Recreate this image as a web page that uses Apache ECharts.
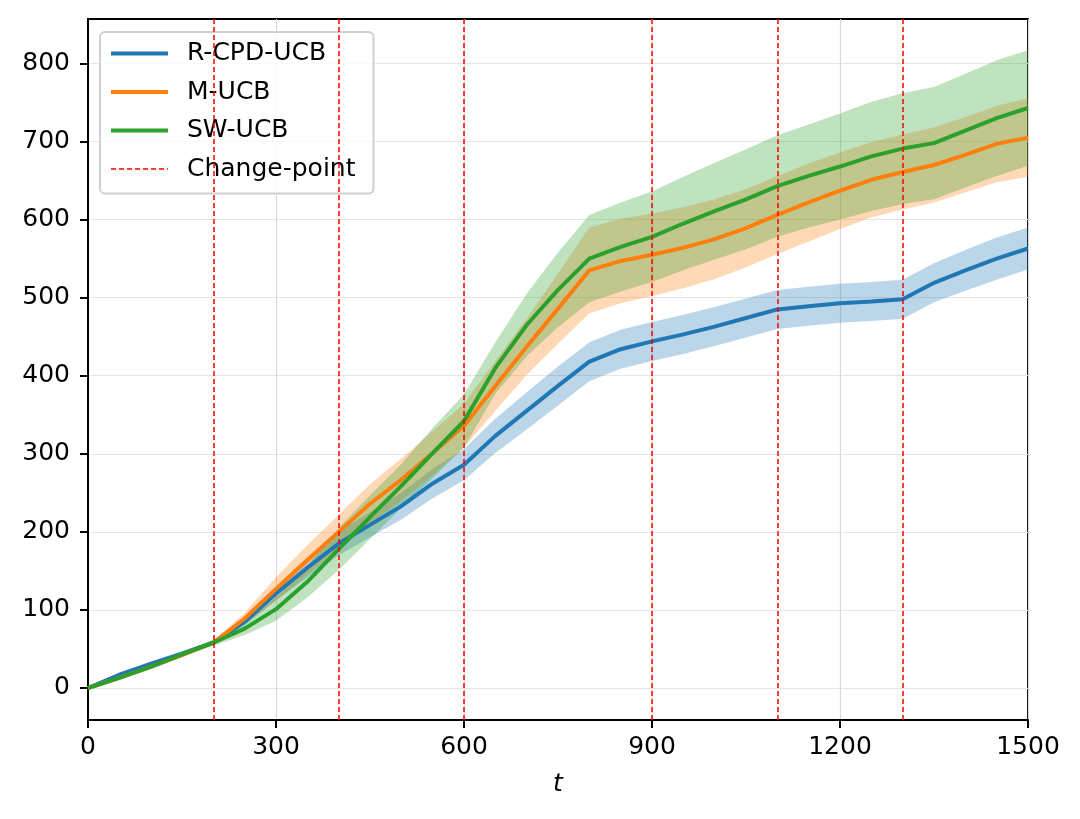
<!DOCTYPE html>
<html><head><meta charset="utf-8">
<script src="https://cdn.jsdelivr.net/npm/echarts@6/dist/echarts.min.js"></script>
<style>html,body{margin:0;padding:0;background:#fff}#c{width:1080px;height:819px}</style>
</head><body><div id="c"></div>
<script>
const t = [0,50,100,150,200,250,300,350,400,450,500,550,600,650,700,750,800,850,900,950,1000,1050,1100,1150,1200,1250,1300,1350,1400,1450,1500];

const rcpdMean = [0,17,31,44,58,85,121,154,185,209,233,262,286,323,355,387,418,434,444,453,463,474,485,489,493,495,498,519,535,550,563];
const rcpdStd  = [0,2,3,3,3,5,9,12,15,16,17,19,20,22,24,25,25,25,25,25,25,25,25,25,25,25,25,25,26,27,27];

const mucbMean = [0,13,27,42,58,89,127,164,200,236,267,301,336,387,437,486,535,547,555,564,575,589,606,622,637,651,661,670,683,697,705];
const mucbStd  = [0,1,2,2,3,7,15,19,22,25,27,28,28,32,36,45,55,54,53,52,51,50,50,50,49,48,48,48,48,49,50];

const swucbMean = [0,13,27,43,58,76,101,136,178,219,259,301,342,410,465,510,550,565,578,595,611,626,643,656,668,681,691,698,714,730,743];
const swucbStd  = [0,1,2,3,4,8,15,20,27,28,28,32,34,33,40,48,56,57,58,60,62,64,65,66,68,70,71,72,73,74,74];

const changePoints = [200,400,600,900,1100,1300];
const yTicks = [0,100,200,300,400,500,600,700,800];

const names = ['R-CPD-UCB','M-UCB','SW-UCB'];
const colors = ['#1f77b4','#ff7f0e','#2ca02c'];
const bandFills = ['rgba(31,119,180,0.3)','rgba(255,127,14,0.3)','rgba(44,160,44,0.3)'];
const means = [rcpdMean, mucbMean, swucbMean];
const stds = [rcpdStd, mucbStd, swucbStd];

const font = 'DejaVu Sans';
const series = [];
means.forEach((m, k) => {
  const sd = stds[k];
  const rows = t.map((x, i) => [x, m[i] - sd[i], m[i] + sd[i]]);
  series.push({
    name: '_band' + k, type: 'custom', silent: true, z: 1 + k * 0.1, clip: true,
    data: rows,
    encode: {x: 0, y: [1, 2]},
    renderItem: function (params, api) {
      if (params.dataIndex !== 0) return null;
      const pts = [];
      for (let i = 0; i < rows.length; i++) pts.push(api.coord([rows[i][0], rows[i][2]]));
      for (let i = rows.length - 1; i >= 0; i--) pts.push(api.coord([rows[i][0], rows[i][1]]));
      return {type: 'polygon', shape: {points: pts}, style: {fill: bandFills[k], stroke: null}};
    }
  });
});
means.forEach((m, k) => {
  series.push({
    name: names[k], type: 'line',
    data: t.map((x, i) => [x, m[i]]),
    symbol: 'none', z: 3,
    lineStyle: {color: colors[k], width: 4},
    itemStyle: {color: colors[k]}
  });
});
series.push({
  name: 'Change-point', type: 'line', data: [], symbol: 'none', z: 4,
  lineStyle: {color: '#ff0000', width: 1.5, type: [5, 3]},
  itemStyle: {color: '#ff0000'},
  markLine: {
    silent: true, symbol: 'none', animation: false,
    label: {show: false},
    lineStyle: {color: '#ff0000', width: 1.5, type: [5, 3]},
    data: changePoints.map(v => ({xAxis: v}))
  }
});

const legendData = names.map((n, k) => ({name: n, lineStyle: {width: 4, color: colors[k]}}));
legendData.push({name: 'Change-point', lineStyle: {width: 1.5, color: '#ff0000', type: [5, 3]}});

const chart = echarts.init(document.getElementById('c'));
chart.setOption({
  animation: false,
  backgroundColor: '#fff',
  grid: {left: 88, right: 52, top: 19, bottom: 99, show: true, borderColor: '#000', borderWidth: 2, backgroundColor: 'transparent'},
  legend: {
    data: legendData,
    orient: 'vertical', left: 100, top: 32,
    padding: [9, 18, 12, 9],
    itemWidth: 57, itemHeight: 4, itemGap: 13.5,
    itemStyle: {opacity: 0},
    backgroundColor: 'rgba(255,255,255,0.8)',
    borderColor: '#d0d0d0', borderWidth: 2, borderRadius: 5,
    textStyle: {fontSize: 25, fontFamily: font, color: '#000', lineHeight: 25, padding: [0, 0, 0, 14]}
  },
  xAxis: {
    type: 'value', min: 0, max: 1500, interval: 300,
    name: 't', nameLocation: 'middle', nameGap: 52,
    nameTextStyle: {fontSize: 25, fontFamily: font, fontStyle: 'italic', color: '#000'},
    axisLine: {show: true, onZero: false, lineStyle: {color: '#000', width: 2}},
    axisTick: {show: true, length: 8, lineStyle: {color: '#000', width: 2}},
    axisLabel: {fontSize: 25, fontFamily: font, color: '#000', margin: 15, formatter: v => String(v)},
    splitLine: {show: true, lineStyle: {color: '#dadada', width: 1.2}}
  },
  yAxis: {
    type: 'value', min: -41, max: 857,
    axisLine: {show: true, onZero: false, lineStyle: {color: '#000', width: 2}},
    axisTick: {show: true, length: 8, lineStyle: {color: '#000', width: 2}, customValues: yTicks},
    axisLabel: {fontSize: 25, fontFamily: font, color: '#000', margin: 18, customValues: yTicks, formatter: v => String(v)},
    splitLine: {show: true, lineStyle: {color: '#e6e6e6', width: 1.2}}
  },
  series: series
});
</script>
</body></html>
